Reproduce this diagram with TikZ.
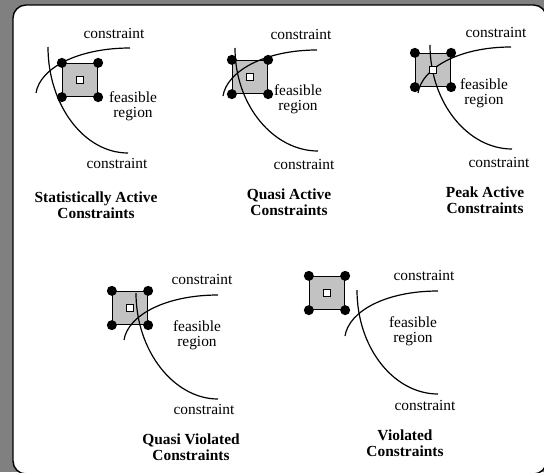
\documentclass[tikz,border=0pt]{standalone}
\usepackage{fontspec}
\setmainfont{Liberation Serif}
\usepackage{tikz}

\definecolor{framegray}{gray}{0.5}
\definecolor{boxgray}{gray}{0.76}

\begin{document}
\begin{tikzpicture}[x=1pt,y=-1pt,
    label/.style={font=\fontsize{15.4}{15.5}\selectfont, inner sep=0pt, align=center},
    title/.style={font=\fontsize{15.4}{16}\selectfont\bfseries, inner sep=0pt, align=center},
    design/.style={draw, fill=boxgray, line width=1.3pt, minimum width=35pt, minimum height=33pt, inner sep=0pt},
    corner/.style={circle, fill=black, minimum size=10pt, inner sep=0pt},
    nominal/.style={draw, fill=white, line width=0.9pt, minimum size=6.5pt, inner sep=0pt},
    limit/.style={line width=1.2pt}]
\useasboundingbox (0,0) rectangle (544,472);
\fill[framegray] (0,0) rectangle (544,472);
\draw[fill=white, line width=1.4pt, rounded corners=13pt] (13,5) rectangle (546.5,474);

% statistically active
\node[label] (top1) at (114,33) {constraint};
\node[design] (box1) at (80,80) {};
\coordinate (h1a) at (36,93);
\coordinate (h1b) at (130,48);
\coordinate (v1a) at (48,47);
\coordinate (v1b) at (128,153);
\draw[limit] (h1a) .. controls +(4,-25) and +(-52,0) .. (h1b);
\draw[limit] (v1a) .. controls +(0,58) and +(-44,0) .. (v1b);
\node[corner] (nw1) at (box1.north west) {};
\node[corner] (ne1) at (box1.north east) {};
\node[corner] (sw1) at (box1.south west) {};
\node[corner] (se1) at (box1.south east) {};
\node[nominal] (nom1) at (box1.center) {};
\node[label] (reg1) at (133,106) {feasible\\region};
\node[label] (bot1) at (117,163) {constraint};
\node[title] (name1) at (96,205) {Statistically Active\\Constraints};

% quasi active
\node[label] (top2) at (301,34) {constraint};
\node[design] (box2) at (250,77) {};
\coordinate (h2a) at (223,96);
\coordinate (h2b) at (317,50);
\coordinate (v2a) at (235,48);
\coordinate (v2b) at (318,151);
\draw[limit] (h2a) .. controls +(4,-25) and +(-52,0) .. (h2b);
\draw[limit] (v2a) .. controls +(0,58) and +(-44,0) .. (v2b);
\node[corner] (nw2) at (box2.north west) {};
\node[corner] (ne2) at (box2.north east) {};
\node[corner] (sw2) at (box2.south west) {};
\node[corner] (se2) at (box2.south east) {};
\node[nominal] (nom2) at (box2.center) {};
\node[label] (reg2) at (298,99) {feasible\\region};
\node[label] (bot2) at (304,164) {constraint};
\node[title] (name2) at (289,202) {Quasi Active\\Constraints};

% peak active
\node[label] (top3) at (496,32) {constraint};
\node[design] (box3) at (433,70) {};
\coordinate (h3a) at (418,93);
\coordinate (h3b) at (511,47);
\coordinate (v3a) at (430,45);
\coordinate (v3b) at (512,149);
\draw[limit] (h3a) .. controls +(4,-25) and +(-52,0) .. (h3b);
\draw[limit] (v3a) .. controls +(0,58) and +(-44,0) .. (v3b);
\node[corner] (nw3) at (box3.north west) {};
\node[corner] (ne3) at (box3.north east) {};
\node[corner] (sw3) at (box3.south west) {};
\node[corner] (se3) at (box3.south east) {};
\node[nominal] (nom3) at (box3.center) {};
\node[label] (reg3) at (484,93) {feasible\\region};
\node[label] (bot3) at (499,162) {constraint};
\node[title] (name3) at (485,200) {Peak Active\\Constraints};

% quasi violated
\node[label] (top4) at (202,279) {constraint};
\node[design] (box4) at (130,308) {};
\coordinate (h4a) at (124,340);
\coordinate (h4b) at (218,295);
\coordinate (v4a) at (136,293);
\coordinate (v4b) at (218,399);
\draw[limit] (h4a) .. controls +(4,-25) and +(-52,0) .. (h4b);
\draw[limit] (v4a) .. controls +(0,58) and +(-44,0) .. (v4b);
\node[corner] (nw4) at (box4.north west) {};
\node[corner] (ne4) at (box4.north east) {};
\node[corner] (sw4) at (box4.south west) {};
\node[corner] (se4) at (box4.south east) {};
\node[nominal] (nom4) at (box4.center) {};
\node[label] (reg4) at (197,335) {feasible\\region};
\node[label] (bot4) at (204,409) {constraint};
\node[title] (name4) at (191,447) {Quasi Violated\\Constraints};

% violated
\node[label] (top5) at (424,275) {constraint};
\node[design] (box5) at (327,293) {};
\coordinate (h5a) at (345,336);
\coordinate (h5b) at (438,291);
\coordinate (v5a) at (357,290);
\coordinate (v5b) at (438,394);
\draw[limit] (h5a) .. controls +(4,-25) and +(-52,0) .. (h5b);
\draw[limit] (v5a) .. controls +(0,58) and +(-44,0) .. (v5b);
\node[corner] (nw5) at (box5.north west) {};
\node[corner] (ne5) at (box5.north east) {};
\node[corner] (sw5) at (box5.south west) {};
\node[corner] (se5) at (box5.south east) {};
\node[nominal] (nom5) at (box5.center) {};
\node[label] (reg5) at (413,331) {feasible\\region};
\node[label] (bot5) at (425,405) {constraint};
\node[title] (name5) at (405,443) {Violated\\Constraints};
\end{tikzpicture}
\end{document}
